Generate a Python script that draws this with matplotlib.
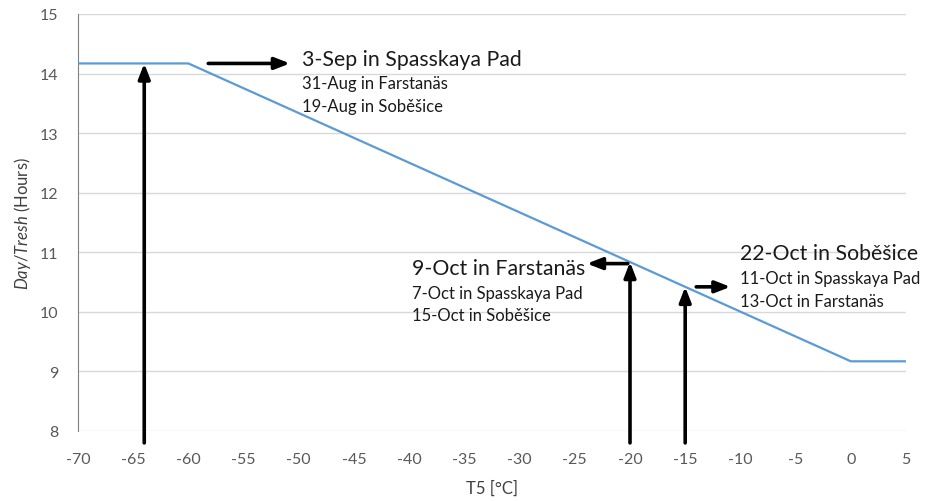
import numpy as np
import matplotlib.pyplot as plt

# --- data ---
t5 = [-70, -60, 0, 5]
day_tresh = [14.17, 14.17, 9.17, 9.17]

x_ticks = list(range(-70, 6, 5))
y_ticks = list(range(8, 16))

# vertical arrows (temperature where each threshold is reached)
v_arrow_x = [-64.0, -20, -15]
v_arrow_base = 7.8

# horizontal arrows: start x, end x, y
h_arrows = [(-58.2, -50.8, 14.17), (-20.2, -23.9, 10.81), (-14.0, -10.9, 10.42)]

# annotation blocks: (x, y of first line, main line, other lines)
labels = [
    (-49.7, 14.25, '3-Sep in Spasskaya Pad', ['31-Aug in Farstanäs', '19-Aug in Soběšice']),
    (-39.75, 10.73, '9-Oct in Farstanäs', ['7-Oct in Spasskaya Pad', '15-Oct in Soběšice']),
    (-10.0, 10.98, '22-Oct in Soběšice', ['11-Oct in Spasskaya Pad', '13-Oct in Farstanäs']),
]

fams = ['Lato', 'DejaVu Sans']
plt.rcParams['font.family'] = fams
plt.rcParams['axes.unicode_minus'] = False
plt.rcParams['mathtext.fontset'] = 'custom'
plt.rcParams['mathtext.it'] = 'Lato:italic'
plt.rcParams['mathtext.rm'] = 'Lato'

fig = plt.figure(figsize=(9.32, 5.02), dpi=100)
ax = fig.add_axes([78 / 932, 1 - 432 / 502, 828 / 932, 417 / 502])

ax.plot(t5, day_tresh, color='#5B9BD5', lw=1.6, zorder=3)

ax.set_xlim(-70, 5)
ax.set_ylim(8, 15)
ax.set_xticks(x_ticks)
ax.set_yticks(y_ticks)
ax.tick_params(length=0, labelsize=11.5, colors='#595959')
ax.tick_params(axis='y', pad=14)
ax.tick_params(axis='x', pad=15)
ax.grid(axis='y', color='#D9D9D9', lw=1)
ax.set_axisbelow(True)
for s in ['top', 'right', 'bottom']:
    ax.spines[s].set_visible(False)
ax.spines['left'].set_color('#808080')

ax.set_xlabel('T5 [°C]', fontsize=12, color='#404040', labelpad=10)
ax.set_ylabel(r'$\it{Day/Tresh}$ (Hours)', fontsize=12, color='#404040', labelpad=5)

arrow_kw = dict(arrowstyle='-|>,head_length=0.9,head_width=0.35', lw=2.6, color='black',
                shrinkA=0, shrinkB=0)
for xv in v_arrow_x:
    tip = np.interp(xv, t5, day_tresh)
    ax.annotate('', xy=(xv, tip), xytext=(xv, v_arrow_base), arrowprops=arrow_kw,
                annotation_clip=False, zorder=4)
for x0, x1, yv in h_arrows:
    ax.annotate('', xy=(x1, yv), xytext=(x0, yv), arrowprops=arrow_kw,
                annotation_clip=False, zorder=4)

for x, y, main, rest in labels:
    ax.text(x, y, main, fontsize=15.3, color='#1a1a1a', va='center', ha='left')
    for i, line in enumerate(rest):
        ax.text(x, y - 0.41 - 0.38 * i, line, fontsize=12, color='#1a1a1a',
                va='center', ha='left')

fig.savefig('out.png', dpi=100)
